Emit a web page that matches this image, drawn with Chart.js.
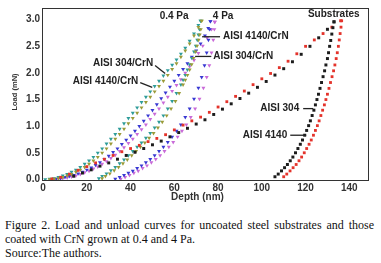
<!DOCTYPE html>
<html>
<head>
<meta charset="utf-8">
<script src="https://cdn.jsdelivr.net/npm/chart.js@4.4.1/dist/chart.umd.min.js"></script>
<style>
  html, body { margin: 0; padding: 0; background: #fff; }
  #wrap { position: relative; width: 381px; height: 263px; overflow: hidden; }
  #box { position: absolute; left: 0; top: 0; width: 381px; height: 205px; }
  #caption {
    position: absolute; left: 5px; top: 218px; width: 369px;
    font-family: "Liberation Serif", "Times New Roman", serif;
    font-size: 12px; line-height: 14px; color: #111;
  }
  #caption div { white-space: nowrap; }
  #caption .just { text-align: justify; text-align-last: justify; }
</style>
</head>
<body>
<div id="wrap">
  <div id="box"><canvas id="myChart" width="381" height="205"></canvas></div>
  <div id="caption">
    <div class="just">Figure 2. Load and unload curves for uncoated steel substrates and those</div>
    <div>coated with CrN grown at 0.4 and 4 Pa.</div>
    <div>Source:The authors.</div>
  </div>
</div>
<script>
// tick labels
var xTicks = [0, 20, 40, 60, 80, 100, 120, 140];
var yTicks = [0, 0.5, 1.0, 1.5, 2.0, 2.5, 3.0];

// substrates (depth nm, load mN)
var aisi304Load = [[14,0.06],[18,0.12],[22,0.18],[26,0.25],[30,0.31],[34,0.38],[38,0.45],[42,0.51],[46,0.58],[50,0.65],[54,0.72],[58,0.8],[62,0.88],[66,0.96],[70,1.04],[74,1.12],[78,1.22],[82,1.32],[86,1.42],[90,1.52],[94,1.62],[98,1.73],[102,1.84],[106,1.96],[110,2.08],[114,2.21],[118,2.35],[122,2.5],[126,2.66],[130,2.82],[133,2.96]];
var aisi304Unload = [[133,2.96],[132.5,2.85],[132,2.73],[131.5,2.61],[131,2.5],[130.5,2.38],[130,2.27],[129.3,2.15],[128.7,2.04],[128,1.93],[127.3,1.82],[126.6,1.71],[125.9,1.6],[125.2,1.5],[124.5,1.4],[123.8,1.3],[123,1.2],[122.2,1.1],[121.4,1.01],[120.5,0.92],[119.6,0.83],[118.6,0.74],[117.6,0.66],[116.5,0.58],[115.4,0.5],[114.2,0.42],[113,0.35],[111.7,0.28],[110.4,0.22],[109,0.16],[107.5,0.1],[106,0.05]];
var aisi4140Load = [[4,0.01],[8,0.04],[12,0.1],[16,0.17],[20,0.24],[24,0.31],[28,0.38],[32,0.45],[36,0.52],[40,0.58],[44,0.64],[48,0.71],[52,0.77],[56,0.84],[60,0.93],[64,1.02],[68,1.1],[72,1.17],[76,1.26],[80,1.36],[84,1.46],[88,1.56],[92,1.66],[96,1.78],[100,1.89],[104,1.99],[108,2.1],[112,2.22],[116,2.36],[120,2.5],[124,2.62],[128,2.74],[132,2.86],[136,2.98]];
var aisi4140Unload = [[136.5,2.98],[136.2,2.86],[135.8,2.74],[135.4,2.62],[135,2.5],[134.5,2.38],[134,2.27],[133.4,2.15],[132.8,2.04],[132.1,1.93],[131.4,1.82],[130.7,1.71],[130,1.6],[129.3,1.5],[128.6,1.4],[127.8,1.3],[127,1.2],[126.2,1.1],[125.4,1.01],[124.5,0.92],[123.6,0.83],[122.6,0.74],[121.6,0.66],[120.5,0.58],[119.4,0.5],[118.2,0.42],[117,0.35],[115.7,0.28],[114.3,0.22],[112.9,0.16],[111.4,0.1],[110,0.05]];

// CrN grown at 0.4 Pa
var tealLoad = [[1,0],[3,0.01],[5,0.02],[7,0.04],[9,0.07],[11,0.1],[13,0.14],[15,0.18],[17,0.23],[19,0.29],[21,0.35],[23,0.42],[25,0.5],[27,0.58],[29,0.67],[31,0.76],[33,0.85],[35,0.95],[37,1.05],[39,1.15],[41,1.25],[43,1.35],[45,1.45],[47,1.55],[49,1.65],[51,1.75],[53,1.85],[55,1.95],[57,2.05],[59,2.15],[61,2.25],[63,2.36],[65,2.47],[67,2.6],[69,2.74],[71,2.9],[72,2.98]];
var tealUnload = [[25.5,0.02],[27,0.06],[29,0.11],[31,0.17],[33,0.23],[35,0.3],[37,0.37],[39,0.45],[41,0.53],[43,0.61],[45,0.69],[47,0.78],[49,0.87],[51,0.97],[53,1.08],[55,1.2],[57,1.33],[59,1.47],[61,1.62],[63,1.78],[64,1.87],[65,1.96],[66,2.06],[67,2.16],[68,2.28],[69,2.4],[69.8,2.51],[70.5,2.62],[71,2.72],[71.5,2.82],[72,2.98]];
var oliveLoad = [[3,0],[5,0.01],[7,0.02],[9,0.04],[11,0.07],[13,0.1],[15,0.14],[17,0.18],[19,0.23],[21,0.29],[23,0.35],[25,0.42],[27,0.5],[29,0.58],[31,0.67],[33,0.76],[35,0.85],[37,0.95],[39,1.05],[41,1.15],[43,1.25],[45,1.35],[47,1.45],[49,1.55],[51,1.65],[53,1.75],[55,1.85],[57,1.96],[59,2.07],[61,2.18],[63,2.3],[65,2.42],[67,2.55],[69,2.7],[71,2.86],[72.5,2.98]];
var oliveUnload = [[27,0.02],[28.5,0.06],[30.5,0.11],[32.5,0.17],[34.5,0.23],[36.5,0.3],[38.5,0.37],[40.5,0.45],[42.5,0.53],[44.5,0.61],[46.5,0.69],[48.5,0.78],[50.5,0.87],[52.5,0.97],[54.5,1.08],[56.5,1.2],[58.5,1.33],[60.5,1.47],[62.2,1.62],[64,1.78],[65,1.87],[66,1.96],[67,2.06],[67.9,2.16],[68.8,2.28],[69.7,2.4],[70.4,2.51],[71.1,2.62],[71.6,2.72],[72.1,2.82],[72.5,2.98]];

// CrN grown at 4 Pa
var blueLoad = [[4,0],[6,0.01],[8,0.02],[10,0.04],[12,0.06],[14,0.08],[16,0.11],[18,0.14],[20,0.18],[22,0.22],[24,0.27],[26,0.32],[28,0.38],[30,0.44],[32,0.51],[34,0.58],[36,0.66],[38,0.74],[40,0.82],[42,0.91],[44,1.0],[46,1.1],[48,1.2],[50,1.3],[52,1.41],[54,1.52],[56,1.63],[58,1.74],[60,1.85],[62,1.96],[64,2.07],[66,2.18],[68,2.3],[70,2.42],[72,2.55],[74,2.7],[75.5,2.84],[76.5,2.97]];
var blueUnload = [[33,0.01],[35,0.04],[37,0.08],[39,0.12],[41,0.16],[43,0.21],[45,0.26],[47,0.32],[49,0.38],[51,0.45],[53,0.53],[55,0.61],[57,0.7],[59,0.8],[61,0.91],[63,1.03],[65,1.17],[67,1.33],[69,1.51],[71,1.72],[72.5,1.92],[73.8,2.14],[74.8,2.38],[75.6,2.62],[76.2,2.82],[76.5,2.97]];
var magentaLoad = [[5,0],[7,0.01],[9,0.02],[11,0.03],[13,0.05],[15,0.07],[17,0.1],[19,0.13],[21,0.16],[23,0.2],[25,0.24],[27,0.29],[29,0.34],[31,0.4],[33,0.46],[35,0.53],[37,0.6],[39,0.68],[41,0.76],[43,0.85],[45,0.94],[47,1.03],[49,1.13],[51,1.23],[53,1.33],[55,1.44],[57,1.55],[59,1.66],[61,1.77],[63,1.88],[65,2.0],[67,2.12],[69,2.24],[71,2.37],[73,2.51],[75,2.66],[77,2.82],[78.5,2.96]];
var magentaUnload = [[35.5,0.01],[37.5,0.04],[39.5,0.08],[41.5,0.12],[43.5,0.16],[45.5,0.21],[47.5,0.26],[49.5,0.32],[51.5,0.38],[53.5,0.45],[55.5,0.53],[57.5,0.61],[59.5,0.7],[61.5,0.8],[63.5,0.91],[65.5,1.03],[67.5,1.17],[69.5,1.33],[71.5,1.51],[73.3,1.72],[74.8,1.92],[76,2.14],[77,2.38],[77.8,2.62],[78.3,2.82],[78.5,2.96]];

// text notes drawn on the plot: [text, x, y, align, leaderFrom, leaderTo]
var notes = [
  ["0.4 Pa", 59.9, 3.06, "center", null, null],
  ["4 Pa", 82.3, 3.06, "center", null, null],
  ["Substrates", 132.9, 3.11, "center", null, null],
  ["AISI 4140/CrN", 82.3, 2.68, "left", [72.7, 2.68], [80.9, 2.68]],
  ["AISI 304/CrN", 77.8, 2.31, "left", [69.5, 2.31], [76.9, 2.31]],
  ["AISI 304/CrN", 50.3, 2.18, "right", [51.2, 2.14], [55.8, 1.99]],
  ["AISI 4140/CrN", 43.5, 1.84, "right", [44.4, 1.82], [49.9, 1.73]],
  ["AISI 304", 117.1, 1.33, "right", [118.9, 1.33], [123.5, 1.33]],
  ["AISI 4140", 111.6, 0.83, "right", [113, 0.83], [120.3, 0.83]]
];

function toPts(arr) {
  return arr.map(function(p) { return {x: p[0], y: p[1]}; });
}

function series(label, arr, color, shape, radius, rot) {
  return {
    label: label,
    data: toPts(arr),
    showLine: false,
    backgroundColor: color,
    borderColor: color,
    borderWidth: 0,
    pointStyle: shape,
    pointRadius: radius,
    pointRotation: rot || 0,
    pointHoverRadius: radius
  };
}

var black = "#1c1c1c", red = "#e4332b", teal = "#2e9c9a", olive = "#9b9b38", blue = "#3838d2", magenta = "#c96ad8";
var sans = "'Liberation Sans', Arial, sans-serif";

var frameAndNotes = {
  id: "frameAndNotes",
  afterDatasetsDraw: function(chart) {
    var ctx = chart.ctx, a = chart.chartArea;
    var xs = chart.scales.x, ys = chart.scales.y;
    ctx.save();
    ctx.strokeStyle = "#333";
    ctx.lineWidth = 1;
    ctx.strokeRect(a.left + 0.5, a.top + 0.5, a.right - a.left - 1, a.bottom - a.top - 1);

    // axis titles
    ctx.fillStyle = "#333";
    ctx.textAlign = "center";
    ctx.textBaseline = "middle";
    ctx.font = "bold 10px " + sans;
    ctx.fillText("Depth (nm)", 197.5, 197.5);
    ctx.save();
    ctx.translate(15, 92);
    ctx.rotate(-Math.PI / 2);
    ctx.font = "bold 7.5px " + sans;
    ctx.fillText("Load (mN)", 0, 0);
    ctx.restore();

    ctx.font = "bold 10px " + sans;
    ctx.fillStyle = "#222";
    for (var i = 0; i < notes.length; i++) {
      var n = notes[i];
      ctx.textAlign = n[3];
      ctx.fillText(n[0], xs.getPixelForValue(n[1]), ys.getPixelForValue(n[2]));
      if (n[4]) {
        ctx.strokeStyle = "#222";
        ctx.lineWidth = 1.3;
        ctx.beginPath();
        ctx.moveTo(xs.getPixelForValue(n[4][0]), ys.getPixelForValue(n[4][1]));
        ctx.lineTo(xs.getPixelForValue(n[5][0]), ys.getPixelForValue(n[5][1]));
        ctx.stroke();
      }
    }
    ctx.restore();
  }
};

var tickFont = { family: sans, size: 10, weight: "bold" };

var ctx = document.getElementById("myChart");
var myChart = new Chart(ctx, {
  type: "scatter",
  data: {
    datasets: [
      series("AISI 304", aisi304Load, black, "rect", 2.1),
      series("AISI 304 unload", aisi304Unload, black, "rect", 2.1),
      series("AISI 4140", aisi4140Load, red, "rect", 2.0),
      series("AISI 4140 unload", aisi4140Unload, red, "rect", 2.0),
      series("AISI 304/CrN 0.4 Pa", oliveLoad, olive, "triangle", 2.3, 180),
      series("AISI 304/CrN 0.4 Pa unload", oliveUnload, olive, "triangle", 2.3, 180),
      series("AISI 4140/CrN 0.4 Pa", tealLoad, teal, "triangle", 2.3, 180),
      series("AISI 4140/CrN 0.4 Pa unload", tealUnload, teal, "triangle", 2.3, 180),
      series("AISI 304/CrN 4 Pa", blueLoad, blue, "triangle", 2.3, 180),
      series("AISI 304/CrN 4 Pa unload", blueUnload, blue, "triangle", 2.3, 180),
      series("AISI 4140/CrN 4 Pa", magentaLoad, magenta, "triangle", 2.3, 180),
      series("AISI 4140/CrN 4 Pa unload", magentaUnload, magenta, "triangle", 2.3, 180)
    ]
  },
  options: {
    responsive: false,
    animation: false,
    events: [],
    layout: { padding: { top: 7, right: 12, left: 0, bottom: 0 } },
    plugins: { legend: { display: false }, tooltip: { enabled: false } },
    scales: {
      x: {
        type: "linear",
        min: -0.5,
        max: 149,
        grid: { display: false, drawTicks: false },
        border: { display: false },
        afterBuildTicks: function(s) { s.ticks = xTicks.map(function(v) { return {value: v}; }); },
        afterFit: function(s) { s.height = 24; },
        ticks: { font: tickFont, color: "#333", padding: 1, maxRotation: 0 }
      },
      y: {
        type: "linear",
        min: -0.03,
        max: 3.22,
        grid: { display: false, drawTicks: false },
        border: { display: false },
        afterBuildTicks: function(s) { s.ticks = yTicks.map(function(v) { return {value: v}; }); },
        afterFit: function(s) { s.width = 42; },
        ticks: { font: tickFont, color: "#333", padding: 2, callback: function(v) { return Number(v).toFixed(1); } }
      }
    }
  },
  plugins: [frameAndNotes]
});
</script>
</body>
</html>
